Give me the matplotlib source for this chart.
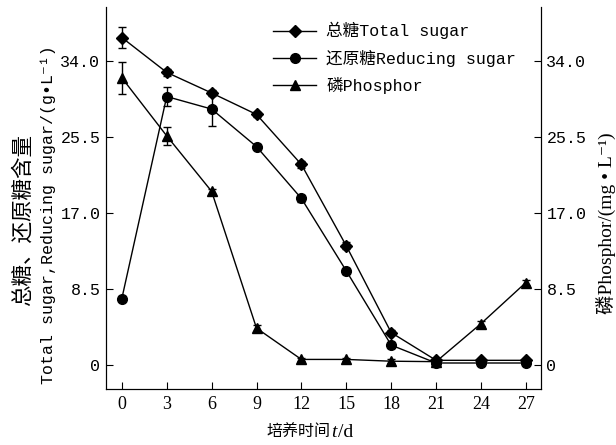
import matplotlib
matplotlib.use("Agg")
import matplotlib.pyplot as plt

# data
days = [0, 3, 6, 9, 12, 15, 18, 21, 24, 27]
total_sugar = [36.6, 32.7, 30.4, 28.0, 22.4, 13.3, 3.6, 0.5, 0.5, 0.5]
total_err = [1.2, 0.4, 0.3, 0.3, 0.4, 0.4, 0.3, 0.2, 0.2, 0.2]
reducing_sugar = [7.4, 30.0, 28.6, 24.4, 18.6, 10.5, 2.2, 0.2, 0.2, 0.2]
reducing_err = [0.3, 1.1, 1.9, 0.3, 0.4, 0.3, 0.3, 0.2, 0.2, 0.2]
phosphor = [32.1, 25.6, 19.4, 4.1, 0.6, 0.6, 0.4, 0.35, 4.6, 9.2]
phosphor_err = [1.8, 1.0, 0.3, 0.3, 0.2, 0.2, 0.2, 0.2, 0.3, 0.3]
yticks = [0, 8.5, 17.0, 25.5, 34.0]
ytick_labels = ["0", "8.5", "17.0", "25.5", "34.0"]

mono = ["Liberation Mono", "Noto Sans CJK SC", "DejaVu Sans"]
serif = ["Liberation Serif", "Noto Sans CJK SC", "DejaVu Sans"]

fig = plt.figure(figsize=(6.16, 4.45), dpi=100)
ax = fig.add_axes([0.172, 0.126, 0.706, 0.858])
ax2 = ax.twinx()

style = dict(color="black", lw=1, capsize=3, elinewidth=1, capthick=1)
l1 = ax.errorbar(days, total_sugar, yerr=total_err, marker="D", ms=6.5, **style)
l2 = ax.errorbar(days, reducing_sugar, yerr=reducing_err, marker="o", ms=7, **style)
l3 = ax2.errorbar(days, phosphor, yerr=phosphor_err, marker="^", ms=7.5, **style)

for a in (ax, ax2):
    a.set_ylim(-2.7, 40)
    a.set_xlim(-1.06, 28.0)
    a.spines["top"].set_visible(False)
    a.set_yticks(yticks)
    a.set_yticklabels(ytick_labels, family=mono, fontsize=12)
    a.tick_params(axis="y", direction="in", length=5, pad=4)

ax.set_xticks(days)
ax.set_xticklabels([str(d) for d in days], family=serif, fontsize=13)
ax.tick_params(axis="x", direction="in", length=5, pad=5)

# x label: 培养时间 t/d with italic t
fig.text(0.536, 0.027, "培养时间", ha="right", va="center",
         family=serif, fontsize=11.5)
fig.text(0.537, 0.027, "t", ha="left", va="center", family="Liberation Serif",
         style="italic", fontsize=14)
fig.text(0.548, 0.027, "/d", ha="left", va="center", family="Liberation Serif",
         fontsize=14)

fig.text(0.984, 0.499, "磷Phosphor/(mg • L⁻¹)", rotation=90, ha="center",
         va="center", family=serif, fontsize=14)
fig.text(0.037, 0.506, "总糖、还原糖含量", rotation=90, ha="center", va="center",
         family=mono, fontsize=15.5)
fig.text(0.078, 0.517, "Total sugar,Reducing sugar/(g•L⁻¹)", rotation=90,
         ha="center", va="center", family=mono, fontsize=12)

ax.legend([l1[0], l2[0], l3[0]], ["总糖Total sugar", "还原糖Reducing sugar", "磷Phosphor"],
          loc="upper left", bbox_to_anchor=(0.35, 1.0), frameon=False,
          prop={"family": mono, "size": 12}, handlelength=2.6,
          handletextpad=0.6, labelspacing=0.6)

fig.savefig("out.png", dpi=100)
